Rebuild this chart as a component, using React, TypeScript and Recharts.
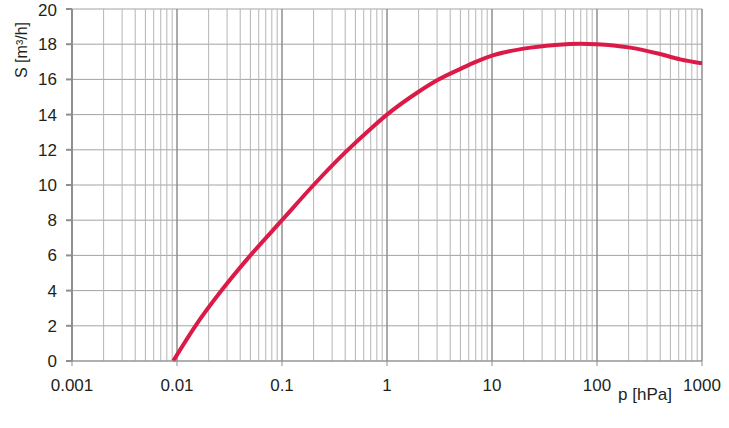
import React from 'react';
import { LineChart, Line, XAxis, YAxis, CartesianGrid, ReferenceLine, Label } from 'recharts';

// pumping speed curve
const PRESSURE = [0.0092, 0.015, 0.0265, 0.05, 0.1, 0.2, 0.4, 0.7, 1, 2, 3, 5, 7, 10, 20, 40, 70, 100, 200, 400, 620, 1000];
const SPEED = [0, 2, 4, 6, 8, 10, 11.85, 13.2, 14, 15.3, 15.95, 16.6, 17.0, 17.35, 17.75, 17.96, 18.03, 18.0, 17.82, 17.44, 17.14, 16.91];

const X_TICKS = [0.001, 0.01, 0.1, 1, 10, 100, 1000];
const Y_TICKS = [0, 2, 4, 6, 8, 10, 12, 14, 16, 18, 20];
const MAJOR_LINES = [0.01, 0.1, 1, 10, 100, 1000];
const MINOR_LINES = [0.001, 0.01, 0.1, 1, 10, 100].flatMap((d) =>
  [2, 3, 4, 5, 6, 7, 8, 9].map((m) => +(d * m).toPrecision(3))
);

const data = PRESSURE.map((p, i) => ({ p, s: SPEED[i] }));

const FONT = 'Liberation Sans, Arial, sans-serif';
const TEXT = '#231f20';

const fmt = (v: number) => (v < 1 ? String(v) : String(Math.round(v)));

export default function App() {
  return (
    <div style={{ position: 'absolute', left: 0, top: 0, width: 729, height: 428, background: '#fff' }}>
      <LineChart width={729} height={428} data={data} margin={{ top: 9, right: 27, bottom: 37, left: 0 }}>
        <CartesianGrid vertical={false} stroke="#a3a3a3" strokeWidth={1} />
        {MINOR_LINES.map((v) => (
          <ReferenceLine key={'m' + v} x={v} stroke="#b5b5b5" strokeWidth={1} />
        ))}
        {MAJOR_LINES.map((v) => (
          <ReferenceLine key={'M' + v} x={v} stroke="#8f8f8f" strokeWidth={1.5} />
        ))}
        <XAxis
          dataKey="p"
          type="number"
          scale="log"
          domain={[0.001, 1000]}
          ticks={X_TICKS}
          tickFormatter={fmt}
          allowDataOverflow
          height={30}
          stroke="#8f8f8f"
          tickSize={5}
          tickMargin={13}
          tick={{ fontSize: 17, fill: TEXT, fontFamily: FONT }}
        >
          <Label
            content={() => (
              <text x={645} y={400} textAnchor="middle" fontSize={17} fill={TEXT} fontFamily={FONT}>
                p [hPa]
              </text>
            )}
          />
        </XAxis>
        <YAxis
          type="number"
          domain={[0, 20]}
          ticks={Y_TICKS}
          width={72}
          stroke="#8f8f8f"
          strokeWidth={2}
          tickSize={6}
          tickMargin={9}
          tick={{ fontSize: 17, fill: TEXT, fontFamily: FONT }}
        >
          <Label
            content={() => (
              <text
                x={27}
                y={78}
                transform="rotate(-90 27 78)"
                textAnchor="start"
                fontSize={16}
                fill={TEXT}
                fontFamily={FONT}
              >
                S [m³/h]
              </text>
            )}
          />
        </YAxis>
        <Line
          type="monotone"
          dataKey="s"
          stroke="#dc1a48"
          strokeWidth={4}
          dot={false}
          isAnimationActive={false}
        />
      </LineChart>
    </div>
  );
}
